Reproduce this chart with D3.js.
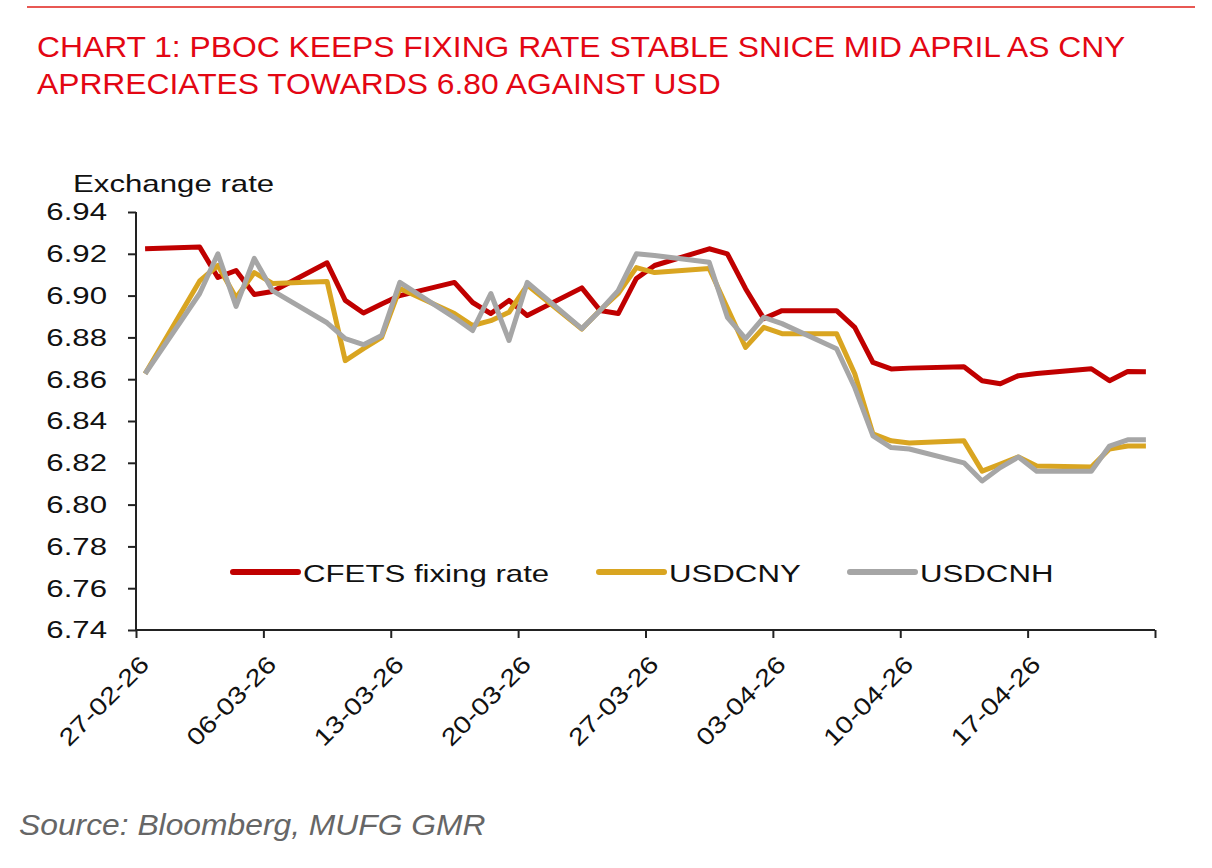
<!DOCTYPE html>
<html>
<head>
<meta charset="utf-8">
<script src="https://cdn.jsdelivr.net/npm/d3@7"></script>
<style>
  html, body { margin: 0; padding: 0; background: #fff; }
  svg { display: block; font-family: 'Liberation Sans', Arial, sans-serif; }
</style>
</head>
<body>
<svg id="chart"></svg>
<script>
'use strict';

/* Trading days (dd-mm-yy) */
var dates = [
  '27-02-26', '02-03-26', '03-03-26', '04-03-26', '05-03-26', '06-03-26',
  '09-03-26', '10-03-26', '11-03-26', '12-03-26', '13-03-26',
  '16-03-26', '17-03-26', '18-03-26', '19-03-26', '20-03-26',
  '23-03-26', '24-03-26', '25-03-26', '26-03-26', '27-03-26',
  '30-03-26', '31-03-26', '01-04-26', '02-04-26', '03-04-26',
  '06-04-26', '07-04-26', '08-04-26', '09-04-26', '10-04-26',
  '13-04-26', '14-04-26', '15-04-26', '16-04-26', '17-04-26',
  '20-04-26', '21-04-26', '22-04-26', '23-04-26'
];

var cfetsFixing = [
  6.9224, 6.9232, 6.9087, 6.9120, 6.9005, 6.9020,
  6.9157, 6.8977, 6.8917, 6.8960, 6.9000,
  6.9063, 6.8967, 6.8914, 6.8977, 6.8905,
  6.9037, 6.8929, 6.8914, 6.9082, 6.9144,
  6.9224, 6.9200, 6.9033, 6.8890, 6.8928,
  6.8928, 6.8848, 6.8680, 6.8649, 6.8653,
  6.8660, 6.8593, 6.8578, 6.8617, 6.8627,
  6.8650, 6.8593, 6.8637, 6.8636
];

var usdcny = [
  6.8626, 6.9070, 6.9144, 6.8990, 6.9110, 6.9058,
  6.9068, 6.8689, 6.8746, 6.8800, 6.9034,
  6.8914, 6.8857, 6.8880, 6.8920, 6.9050,
  6.8840, 6.8930, 6.9010, 6.9134, 6.9110,
  6.9130, 6.8940, 6.8752, 6.8848, 6.8818,
  6.8818, 6.8626, 6.8338, 6.8305, 6.8295,
  6.8305, 6.8160, 6.8194, 6.8228, 6.8185,
  6.8180, 6.8266, 6.8280, 6.8280
];

var usdcnh = [
  6.8626, 6.9010, 6.9200, 6.8948, 6.9178, 6.9024,
  6.8870, 6.8794, 6.8765, 6.8809, 6.9063,
  6.8895, 6.8833, 6.9010, 6.8785, 6.9063,
  6.8842, 6.8928, 6.9024, 6.9200, 6.9192,
  6.9160, 6.8896, 6.8794, 6.8896, 6.8866,
  6.8746, 6.8560, 6.8329, 6.8273, 6.8266,
  6.8200, 6.8113, 6.8177, 6.8228, 6.8160,
  6.8160, 6.8280, 6.8310, 6.8310
];

/* Weekly tick labels on the date axis */
var xTickLabels = [
  '27-02-26', '06-03-26', '13-03-26', '20-03-26', '27-03-26',
  '03-04-26', '10-04-26', '17-04-26', '24-04-26'
];
var yTicks = [6.74, 6.76, 6.78, 6.80, 6.82, 6.84, 6.86, 6.88, 6.90, 6.92, 6.94];

var seriesNames = ['CFETS fixing rate', 'USDCNY', 'USDCNH'];
var seriesValues = [cfetsFixing, usdcny, usdcnh];
var seriesColors = ['#c00000', '#d9a521', '#a6a6a6'];

var parseDate = d3.timeParse('%d-%m-%y');

var W = 1212, H = 868;
var margin = { left: 136, right: 57, top: 212, bottom: 238 };

/* The chart texts are a little wider than plain Arial */
var chartFont = 24, chartStretch = 1.3, dateStretch = 1.2;
var headFont = 30, headStretch = 1.06;

var svg = d3.select('#chart')
  .attr('width', W)
  .attr('height', H);

function stretchedText(parent, tx, ty, size, sx, str) {
  return parent.append('text')
    .attr('transform', 'translate(' + tx + ',' + ty + ') scale(' + sx + ',1)')
    .style('font-size', size + 'px')
    .text(str);
}

/* Header rule and title */
svg.append('line')
  .attr('x1', 27).attr('x2', 1195)
  .attr('y1', 7).attr('y2', 7)
  .attr('stroke', '#e0201a')
  .attr('stroke-width', 1.5);

stretchedText(svg, 37, 57, headFont, headStretch,
  'CHART 1: PBOC KEEPS FIXING RATE STABLE SNICE MID APRIL AS CNY')
  .attr('fill', '#e30613');
stretchedText(svg, 37, 94, headFont, headStretch,
  'APRRECIATES TOWARDS 6.80 AGAINST USD')
  .attr('fill', '#e30613');

/* Scales */
var x = d3.scaleTime()
  .domain([parseDate('27-02-26'), parseDate('24-04-26')])
  .range([margin.left, W - margin.right]);

var y = d3.scaleLinear()
  .domain([6.74, 6.94])
  .range([H - margin.bottom, margin.top]);

/* Points sit in the middle of each day slot */
var halfDay = 12 * 3600 * 1000;
var parsed = dates.map(parseDate);

/* Axes */
var xAxis = d3.axisBottom(x)
  .tickValues(xTickLabels.map(parseDate))
  .tickSize(8)
  .tickFormat('');

var gx = svg.append('g')
  .attr('class', 'x axis')
  .attr('transform', 'translate(0,' + (H - margin.bottom) + ')')
  .call(xAxis);
gx.select('.domain').attr('d', 'M' + x.range()[0] + ',0H' + x.range()[1]);

gx.selectAll('.tick')
  .filter(function(d, i) { return i < xTickLabels.length - 1; })
  .append('text')
  .attr('fill', '#111')
  .attr('transform', 'translate(14,36) rotate(-45) scale(' + dateStretch + ',1)')
  .style('text-anchor', 'end')
  .style('font-size', chartFont + 'px')
  .text(function(d) { return d3.timeFormat('%d-%m-%y')(d); });

var yAxis = d3.axisLeft(y)
  .tickValues(yTicks)
  .tickSize(8)
  .tickFormat(d3.format('.2f'));

var gy = svg.append('g')
  .attr('class', 'y axis')
  .attr('transform', 'translate(' + margin.left + ',0)')
  .call(yAxis);
gy.select('.domain').attr('d', 'M0,' + y.range()[1] + 'V' + y.range()[0]);
gy.selectAll('.tick text')
  .attr('x', 0)
  .attr('dy', '0.33em')
  .attr('transform', 'translate(-29,0) scale(' + chartStretch + ',1)')
  .attr('fill', '#111')
  .style('font-size', chartFont + 'px');

svg.selectAll('.axis .domain, .axis .tick line')
  .attr('stroke', '#222')
  .attr('stroke-width', 2);

stretchedText(svg, 73, 192, chartFont, chartStretch, 'Exchange rate')
  .attr('fill', '#111');

/* Lines */
var line = d3.line()
  .x(function(d) { return x(new Date(d.date.getTime() + halfDay)); })
  .y(function(d) { return y(d.value); });

seriesValues.forEach(function(values, s) {
  var points = values.map(function(v, i) {
    return { date: parsed[i], value: v };
  });
  svg.append('path')
    .datum(points)
    .attr('fill', 'none')
    .attr('stroke', seriesColors[s])
    .attr('stroke-width', 5)
    .attr('stroke-linejoin', 'round')
    .attr('d', line);
});

/* Legend */
var legendX = [233, 599, 850];
var legend = svg.append('g').attr('class', 'legend');
seriesNames.forEach(function(name, s) {
  legend.append('line')
    .attr('x1', legendX[s]).attr('x2', legendX[s] + 65)
    .attr('y1', 572).attr('y2', 572)
    .attr('stroke', seriesColors[s])
    .attr('stroke-width', 6)
    .attr('stroke-linecap', 'round');
  stretchedText(legend, legendX[s] + 70, 582, chartFont, chartStretch, name)
    .attr('fill', '#111');
});

/* Source */
stretchedText(svg, 19, 835, headFont, headStretch, 'Source: Bloomberg, MUFG GMR')
  .attr('fill', '#666')
  .style('font-style', 'italic');
</script>
</body>
</html>
